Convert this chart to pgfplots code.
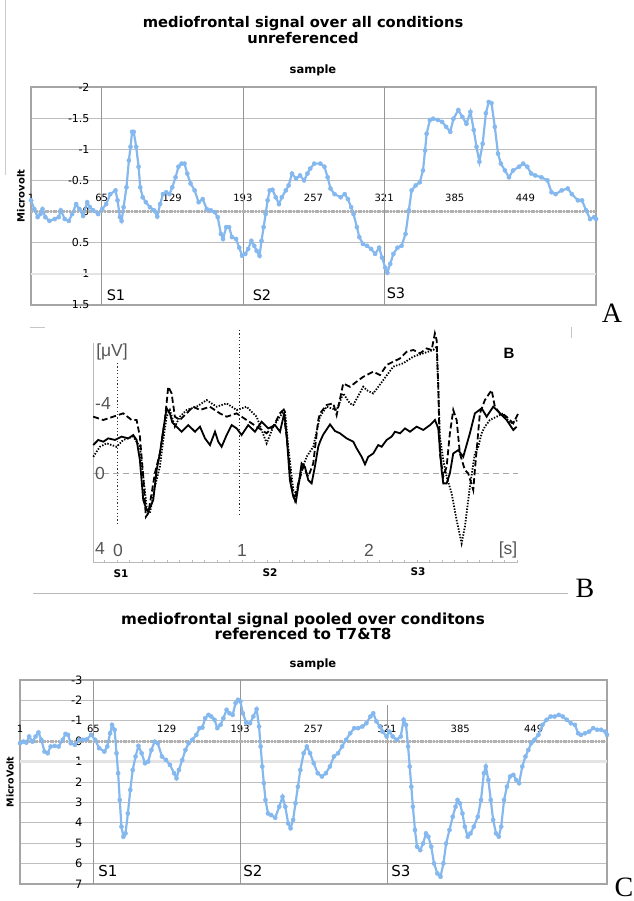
\documentclass[border=0pt]{standalone}
\usepackage{pgfplots}
\usepackage{pgfplotstable}
\pgfplotsset{compat=1.18}
\usepackage{fontspec}
\setmainfont{DejaVu Sans}
\newfontfamily\lib{Liberation Sans}
\newfontfamily\tnr{Liberation Serif}

\definecolor{exblue}{RGB}{132,184,238}
\definecolor{frameg}{RGB}{165,165,165}
\definecolor{gridg}{RGB}{190,190,190}
\definecolor{zerog}{RGB}{178,178,178}
\definecolor{oneg}{RGB}{228,228,228}
\definecolor{vlg}{RGB}{150,150,150}
\definecolor{labg}{RGB}{85,85,85}

\pgfplotstableread{
s v
1 -0.18
4 -0.04
7 0.09
9.6 0.04
11.4 -0.04
14 0.09
17.7 0.15
22.5 0.12
26.1 0.09
28 -0.02
31.6 0.12
35.3 0.15
38.3 0.04
41.9 -0.12
44.9 -0.04
48.2 0.07
51.9 -0.15
54.4 -0.07
57.4 -0.02
61.8 0.04
65.5 -0.04
69.1 -0.12
72.8 -0.28
77.6 -0.34
79.4 -0.18
81.6 0.09
83.1 0.15
84.9 -0.07
87.5 -0.39
89.7 -0.82
91.2 -1.04
92.6 -1.28
94.1 -1.28
96.3 -1.04
98.5 -0.72
100 -0.39
102.2 -0.23
105.1 -0.15
108.8 -0.07
112.5 -0.02
115.4 0.08
118 -0.12
120.6 -0.28
123.5 -0.31
126.5 -0.28
129 -0.39
132 -0.55
134.6 -0.72
137.5 -0.77
140.1 -0.77
142.6 -0.61
145.6 -0.45
149.3 -0.34
152.9 -0.15
156.6 -0.20
160.3 -0.04
164 -0.02
167.6 0.01
170.2 0.09
173.1 0.36
175 0.44
177.9 0.25
180.5 0.25
183.1 0.41
186.8 0.44
189.7 0.58
192.3 0.71
195.2 0.68
197.8 0.60
200.7 0.47
203.3 0.55
205.5 0.63
208.1 0.71
209.9 0.47
211.8 0.25
213.6 0.04
215.4 -0.18
217.3 -0.34
219.8 -0.35
222.8 -0.23
225.7 -0.12
228.3 -0.23
231.9 -0.34
234.5 -0.42
237.5 -0.61
241.2 -0.53
244.8 -0.58
248.5 -0.50
251.5 -0.61
254 -0.69
257.7 -0.77
263.2 -0.77
266.9 -0.72
269.8 -0.55
272.4 -0.37
276.1 -0.28
281.6 -0.23
285.3 -0.28
288.2 -0.20
291.1 -0.07
293.3 0.04
296.3 0.25
298.5 0.41
301.8 0.52
305.5 0.55
309.2 0.60
312.8 0.68
316.5 0.58
319.1 0.74
322 0.90
323.9 0.98
326.5 0.84
329.4 0.68
333.1 0.58
336.8 0.55
340.4 0.36
343.4 -0.02
345.9 -0.34
349.6 -0.42
353.3 -0.47
356.2 -0.66
358.1 -0.98
359.5 -1.25
362.5 -1.47
365.4 -1.49
369.8 -1.47
373.5 -1.44
377.2 -1.36
380.9 -1.28
383.8 -1.49
388.2 -1.63
391.9 -1.52
395.6 -1.41
399.2 -1.60
402.2 -1.31
404.7 -1.04
407.3 -0.80
410.3 -1.09
413.2 -1.58
415.8 -1.76
418.3 -1.74
421.3 -1.36
424.2 -0.93
426.8 -0.77
430.5 -0.66
434.1 -0.55
437.8 -0.66
443.3 -0.72
447 -0.77
450.7 -0.72
454.3 -0.61
458 -0.58
463.5 -0.55
469 -0.50
472.7 -0.31
476.4 -0.28
481.9 -0.34
487.4 -0.37
491.1 -0.28
496.6 -0.18
500.3 -0.18
504 -0.02
507.6 0.12
511.3 0.09
513 0.12
}\dataA

\pgfplotstableread{
s v
1 0.10
4 0.02
6.5 0.07
9 -0.23
11.8 0.02
14.6 -0.23
17.1 -0.43
19.6 -0.07
22.4 0.51
25.2 0.59
27.7 0.26
31.2 0.23
34.7 0.26
38.3 -0.07
40.7 -0.36
42.9 -0.31
45.3 0.10
48.9 0.18
52.4 -0.07
55.9 -0.07
59.5 -0.10
63 -0.31
66.5 -0.07
70 0.34
74.6 0.51
77.1 0.26
79.6 -0.39
81.3 -0.80
83.5 -0.56
85.2 0.59
86.6 1.57
88 2.88
89.5 4.19
91.2 4.68
93 4.52
95.1 3.54
97.2 2.39
99.3 1.41
101.8 0.75
104.3 0.23
107.1 0.59
110 1.08
112.8 1.00
115.6 0.43
118.4 0.02
121.2 0.10
124.8 0.75
128.3 0.92
131.8 1.16
135.4 1.57
137.5 1.82
139.6 1.41
142.5 0.92
145.3 0.43
148.1 0.10
151.3 -0.07
154.8 -0.31
157.6 -0.64
160.1 -0.67
162.5 -1.13
165.4 -1.29
167.8 -1.21
170.7 -1.05
173.1 -0.64
175.9 -0.80
178.4 -1.13
181.2 -1.54
183.7 -1.37
186.5 -1.29
189 -1.87
191.1 -2.03
193.2 -1.95
195.4 -1.37
198.2 -0.92
201.7 -0.88
204.5 -1.21
207.4 -1.57
209.5 -0.72
210.9 0.26
212.3 1.24
213.7 2.06
215.1 2.88
217.3 3.54
220.1 3.62
223.6 3.75
227.1 3.21
230 2.72
232.4 3.21
234.9 4.03
237 4.27
239.2 3.86
241.3 3.04
243.4 2.23
245.5 1.41
248.4 0.59
251.2 0.26
254 0.59
257.2 1.08
260.7 1.57
264.3 1.73
267.8 1.57
271.3 1.24
274.8 0.75
278.4 0.59
281.9 0.26
285.4 -0.07
289 -0.39
292.5 -0.64
296 -0.64
299.6 -0.72
303.1 -0.88
306.6 -1.21
309.1 -1.37
311.9 -0.97
314.8 -0.72
317.2 -0.47
320.8 -0.23
323.2 -0.47
326.1 -0.23
329.6 -0.07
333.1 -0.23
335.6 -1.05
337.7 -0.80
339.5 0.26
340.9 1.24
342.3 2.23
343.7 3.21
345.5 4.35
347.3 5.17
350.1 5.34
352.6 5.01
355.1 4.52
357.2 4.68
359.7 5.17
362.1 5.99
365 6.48
367.8 6.64
370.3 5.99
372.7 5.01
375.6 4.35
378.4 3.70
380.9 3.21
382.6 2.88
384.7 3.04
386.9 3.54
389 4.19
391.5 4.68
393.9 4.52
396.8 4.19
400.3 3.70
403.1 2.88
405.6 1.57
407.3 1.24
409.5 1.90
411.6 2.88
413.7 3.86
416.2 4.52
418.6 4.68
420.7 4.19
423.2 2.88
425.7 2.23
428.5 1.73
431.3 1.65
433.8 1.90
436.3 2.06
439.1 1.24
441.9 0.75
444.4 0.43
446.9 0.10
449.7 -0.07
453.2 -0.31
456.7 -0.80
460.3 -1.05
463.8 -1.21
467.3 -1.21
470.9 -1.29
474.4 -1.21
477.9 -1.05
481.5 -0.88
485 -0.80
487.8 -0.39
490.3 -0.31
493.8 -0.39
497.4 -0.47
500.9 -0.64
504.4 -0.56
507.9 -0.56
511.5 -0.47
513 -0.31
}\dataC

\pgfplotstableread{
t v
-0.192 -1.60
-0.152 -1.89
-0.112 -1.79
-0.072 -1.98
-0.018 -1.89
0.035 -2.08
0.088 -1.98
0.128 -2.17
0.155 -1.89
0.181 -0.74
0.208 1.54
0.235 2.11
0.248 2.21
0.288 1.54
0.315 -0.17
0.341 -1.12
0.368 -2.46
0.395 -3.70
0.421 -3.41
0.440 -2.90
0.462 -2.74
0.515 -2.36
0.568 -2.74
0.622 -2.36
0.662 -2.65
0.702 -1.98
0.742 -1.60
0.782 -2.36
0.808 -1.79
0.835 -1.50
0.875 -2.17
0.915 -2.74
0.955 -2.55
0.995 -2.17
1.048 -2.74
1.102 -2.36
1.155 -2.93
1.208 -2.55
1.262 -2.74
1.302 -2.36
1.336 -3.41
1.355 -2.17
1.381 0.40
1.408 1.35
1.429 1.64
1.448 0.78
1.475 -0.55
1.501 -0.36
1.528 0.40
1.555 0.59
1.581 -0.36
1.608 -1.50
1.622 -1.79
1.648 -2.20
1.702 -2.78
1.742 -2.40
1.782 -2.27
1.835 -1.98
1.888 -1.79
1.915 -1.41
1.955 -0.93
1.982 -0.50
2.008 -0.93
2.048 -1.12
2.088 -1.60
2.115 -1.50
2.155 -1.89
2.195 -2.08
2.222 -2.36
2.262 -2.27
2.302 -2.55
2.342 -2.36
2.395 -2.65
2.448 -2.46
2.502 -2.74
2.542 -3.03
2.568 -2.55
2.595 -0.17
2.608 0.59
2.635 0.59
2.661 0.02
2.688 -1.12
2.728 -1.31
2.768 -0.93
2.821 -2.27
2.861 -3.41
2.915 -3.70
2.955 -3.22
3.008 -3.79
3.061 -3.41
3.115 -3.03
3.168 -2.46
3.195 -2.65
}\dataBsolid

\pgfplotstableread{
t v
-0.192 -3.22
-0.112 -3.03
-0.032 -3.22
0.048 -3.41
0.115 -3.03
0.155 -3.03
0.181 -2.08
0.208 0.21
0.229 2.50
0.248 2.30
0.275 1.16
0.301 0.02
0.341 -1.12
0.381 -3.03
0.408 -4.93
0.435 -4.55
0.461 -3.22
0.501 -3.03
0.555 -3.41
0.608 -3.79
0.661 -3.60
0.741 -3.79
0.821 -3.41
0.875 -3.22
0.955 -3.41
1.035 -3.03
1.115 -2.65
1.195 -2.27
1.248 -2.65
1.301 -3.41
1.328 -3.60
1.355 -2.08
1.395 0.78
1.421 1.54
1.448 0.59
1.488 -0.36
1.528 0.21
1.568 -0.55
1.608 -3.03
1.622 -3.41
1.675 -3.89
1.728 -3.98
1.755 -3.31
1.808 -5.12
1.862 -4.93
1.915 -5.22
1.968 -5.50
2.048 -5.79
2.102 -5.60
2.155 -6.17
2.208 -6.36
2.262 -6.55
2.315 -6.93
2.368 -7.03
2.422 -6.84
2.475 -7.12
2.515 -7.03
2.541 -7.98
2.555 -7.60
2.568 -4.93
2.581 -1.12
2.608 0.21
2.635 -0.36
2.661 -2.27
2.688 -3.60
2.715 -3.03
2.741 -1.12
2.781 -0.17
2.808 0.02
2.848 0.97
2.861 -0.17
2.901 -3.41
2.941 -4.17
2.995 -4.74
3.021 -3.79
3.061 -3.41
3.115 -3.22
3.168 -2.84
3.208 -3.41
}\dataBdashed

\pgfplotstableread{
t v
-0.192 -0.93
-0.139 -1.50
-0.085 -1.70
-0.005 -1.50
0.048 -1.89
0.128 -2.08
0.181 -1.50
0.208 0.21
0.235 1.92
0.261 2.30
0.301 0.78
0.341 -0.36
0.368 -1.89
0.395 -3.22
0.421 -3.60
0.461 -2.65
0.501 -3.22
0.555 -3.60
0.635 -3.79
0.715 -4.17
0.795 -3.79
0.875 -3.98
0.955 -3.60
1.035 -3.79
1.115 -3.22
1.195 -1.70
1.248 -2.65
1.301 -3.22
1.341 -3.60
1.368 -1.50
1.408 0.97
1.435 1.16
1.475 -0.17
1.515 -0.93
1.568 -1.50
1.621 -3.22
1.675 -3.79
1.755 -3.60
1.808 -4.55
1.861 -3.98
1.888 -3.89
1.968 -4.93
1.995 -4.74
2.048 -4.55
2.128 -5.31
2.208 -6.08
2.288 -6.27
2.368 -6.65
2.448 -6.84
2.528 -7.03
2.555 -7.22
2.568 -4.93
2.581 -2.08
2.608 -0.74
2.635 0.21
2.675 1.16
2.715 2.69
2.755 4.02
2.781 3.07
2.821 0.78
2.861 -1.12
2.888 -1.50
2.915 -2.27
2.941 -2.65
2.981 -3.03
3.035 -3.22
3.088 -3.41
3.141 -2.84
3.208 -3.03
}\dataBdotted

\begin{document}
\begin{tikzpicture}
\useasboundingbox (0pt,0pt) rectangle (633pt,901pt);

% ---------------- Panel A ----------------
\draw[gray!40, line width=0.6pt] (5pt,901pt) -- (5pt,726pt);
\begin{axis}[
  at={(31pt,596pt)}, anchor=south west, scale only axis,
  width=565pt, height=218pt,
  xmin=1, xmax=513, ymin=-2, ymax=1.5, y dir=reverse,
  axis line style={draw=frameg, line width=1.5pt},
  xtick={1,65,129,193,257,321,385,449},
  xticklabels={1,65,129,193,257,321,385,449},
  ytick={-2,-1.5,-1,-0.5,0,0.5,1,1.5},
  yticklabels={-2,-1.5,-1,-0.5,0,0.5,1,1.5},
  ymajorgrids, major grid style={draw=gridg, line width=0.7pt},
  tick style={draw=none},
  yticklabel style={font=\fontsize{11}{12}\selectfont, anchor=east, xshift=62pt},
  xticklabel style={font=\fontsize{10}{11}\selectfont, anchor=center, yshift=107pt},
  clip=false,
]
\draw[oneg, line width=2.5pt] (axis cs:1,1) -- (axis cs:513,1);
\draw[vlg, line width=0.6pt] (axis cs:65,-2) -- (axis cs:65,1.5);
\draw[vlg, line width=0.6pt] (axis cs:193,-2) -- (axis cs:193,1.5);
\draw[vlg, line width=0.6pt] (axis cs:321,-2) -- (axis cs:321,1.5);
\draw[zerog, line width=2.8pt, dash pattern=on 2pt off 0.7pt] (axis cs:1,0) -- (axis cs:513,0);
\addplot[color=exblue, line width=2.2pt, mark=*, mark size=2.1pt, mark options={fill=exblue, draw=exblue, line width=0.4pt}] table[x=s, y=v] {\dataA};
\end{axis}
\node[align=center, font=\fontsize{14.7}{16}\bfseries\selectfont] at (303pt,871pt) {mediofrontal signal over all conditions\\unreferenced};
\node[font=\fontsize{11.5}{12}\bfseries\selectfont] at (313pt,831pt) {sample};
\node[rotate=90, font=\fontsize{10}{11}\bfseries\selectfont] at (21pt,705pt) {Microvolt};
\node[font=\fontsize{14.5}{15}\selectfont] at (116pt,606pt) {S1};
\node[font=\fontsize{14.5}{15}\selectfont] at (262pt,606pt) {S2};
\node[font=\fontsize{14.5}{15}\selectfont] at (396pt,607.5pt) {S3};
\node[font=\fontsize{28}{30}\tnr\selectfont] at (612pt,588pt) {A};

% ---------------- Panel B ----------------
\draw[gray!45, line width=0.5pt] (30pt,574pt) -- (45pt,574pt);
\draw[gray!45, line width=0.8pt] (571pt,574pt) -- (571pt,563pt);
\draw[gray!55, line width=0.8pt] (33pt,308pt) -- (568pt,308pt);
\begin{axis}[
  at={(93pt,338pt)}, anchor=south west, scale only axis,
  width=425pt, height=220pt,
  xmin=-0.194, xmax=3.206, ymin=-7.43, ymax=5.14, y dir=reverse,
  hide axis, clip=false,
]
\draw[gray!55, line width=1pt] (axis cs:-0.194,-7.43) -- (axis cs:-0.194,5.14) -- (axis cs:3.206,5.14);
\pgfplotsinvokeforeach{-0.1,0,0.1,0.2,0.3,0.4,0.5,0.6,0.7,0.8,0.9,1.0,1.1,1.2,1.3,1.4,1.5,1.6,1.7,1.8,1.9,2.0,2.1,2.2,2.3,2.4,2.5,2.6,2.7,2.8,2.9,3.0,3.1,3.2}{
  \draw[gray!55, line width=0.6pt] (axis cs:#1,5.14) -- ++(0pt,2.5pt);
}
\draw[gray!70, line width=1pt, dash pattern=on 6pt off 4pt] (axis cs:-0.194,0) -- (axis cs:3.206,0);
\draw[black!80, line width=0.9pt, dash pattern=on 1.2pt off 2.2pt] (axis cs:0,-6.29) -- (axis cs:0,2.86);
\draw[black!85, line width=0.9pt, dash pattern=on 1.2pt off 2.2pt] (axis cs:0.98,-8.17) -- (axis cs:0.98,2.51);
\addplot[black, line width=1.8pt, dash pattern=on 1.4pt off 1.5pt] table[x=t, y=v] {\dataBdotted};
\addplot[black, line width=1.8pt, dash pattern=on 6pt off 3pt] table[x=t, y=v] {\dataBdashed};
\addplot[black, line width=1.8pt] table[x=t, y=v] {\dataBsolid};
\end{axis}
\begin{scope}[every node/.style={text=labg, font=\fontsize{17.5}{18}\lib\selectfont}]
\node at (112pt,549pt) {[μV]};
\node at (103pt,498pt) {-4};
\node at (100pt,428pt) {0};
\node at (100pt,353pt) {4};
\node at (118pt,351pt) {0};
\node at (242pt,351pt) {1};
\node at (369pt,351pt) {2};
\node at (508pt,351pt) {[s]};
\end{scope}
\node[font=\fontsize{15}{16}\lib\bfseries\selectfont] at (509pt,548pt) {B};
\node[font=\fontsize{10.5}{11}\bfseries\selectfont] at (121pt,327pt) {S1};
\node[font=\fontsize{10.5}{11}\bfseries\selectfont] at (270pt,328pt) {S2};
\node[font=\fontsize{10.5}{11}\bfseries\selectfont] at (418pt,329pt) {S3};
\node[font=\fontsize{28}{30}\tnr\selectfont] at (585pt,313pt) {B};

% ---------------- Panel C ----------------
\begin{axis}[
  at={(20pt,17pt)}, anchor=south west, scale only axis,
  width=587pt, height=204pt,
  xmin=1, xmax=513, ymin=-3, ymax=7, y dir=reverse,
  axis line style={draw=frameg, line width=1.5pt},
  xtick={1,65,129,193,257,321,385,449},
  xticklabels={1,65,129,193,257,321,385,449},
  ytick={-3,-2,-1,0,1,2,3,4,5,6,7},
  yticklabels={-3,-2,-1,0,1,2,3,4,5,6,7},
  ymajorgrids, major grid style={draw=gridg, line width=0.7pt},
  tick style={draw=none},
  yticklabel style={font=\fontsize{11.5}{12}\selectfont, anchor=east, xshift=66pt},
  xticklabel style={font=\fontsize{10}{11}\selectfont, anchor=center, yshift=155pt},
  clip=false,
]
\draw[oneg, line width=2.5pt] (axis cs:1,1) -- (axis cs:513,1);
\draw[vlg, line width=0.6pt] (axis cs:65,-3) -- (axis cs:65,7);
\draw[vlg, line width=0.6pt] (axis cs:193,-3) -- (axis cs:193,7);
\draw[vlg, line width=0.6pt] (axis cs:321,-1.77) -- (axis cs:321,7);
\draw[zerog, line width=2.8pt, dash pattern=on 2pt off 0.7pt] (axis cs:1,0) -- (axis cs:513,0);
\addplot[color=exblue, line width=2.2pt, mark=*, mark size=2.1pt, mark options={fill=exblue, draw=exblue, line width=0.4pt}] table[x=s, y=v] {\dataC};
\end{axis}
\node[align=center, font=\fontsize{15.2}{15}\bfseries\selectfont] at (303pt,274.5pt) {mediofrontal signal pooled over conditons\\referenced to T7\&T8};
\node[font=\fontsize{11.5}{12}\bfseries\selectfont] at (313pt,237pt) {sample};
\node[rotate=90, font=\fontsize{9.5}{10}\bfseries\selectfont] at (10pt,119pt) {MicroVolt};
\node[font=\fontsize{15}{16}\selectfont] at (108pt,30pt) {S1};
\node[font=\fontsize{15}{16}\selectfont] at (253pt,30pt) {S2};
\node[font=\fontsize{15}{16}\selectfont] at (401pt,30pt) {S3};
\node[font=\fontsize{28}{30}\tnr\selectfont] at (624pt,14pt) {C};
\end{tikzpicture}
\end{document}
